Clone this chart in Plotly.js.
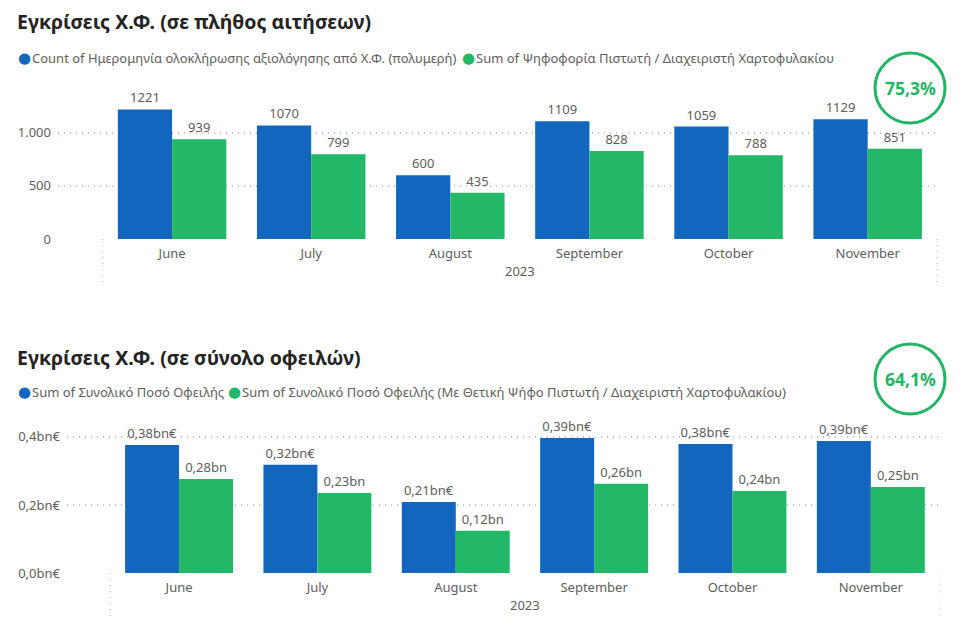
<!DOCTYPE html>
<html>
<head>
<meta charset="utf-8">
<script src="https://cdn.plot.ly/plotly-3.0.1.min.js"></script>
<style>html,body{margin:0;padding:0;background:#fff;}#chart{width:960px;height:617px;}</style>
</head>
<body>
<div id="chart"></div>
<script>
// ---- data ----
const months = ["June", "July", "August", "September", "October", "November"];
const yearLabel = "2023";

const countTotal = [1221, 1070, 600, 1109, 1059, 1129];
const countPositive = [939, 799, 435, 828, 788, 851];
const countTickVals = [0, 500, 1000];
const countTickText = ["0", "500", "1.000"];
const countRatio = "75,3%";

const amountTotal = [0.376, 0.318, 0.209, 0.397, 0.379, 0.388];
const amountTotalLabels = ["0,38bn€", "0,32bn€", "0,21bn€", "0,39bn€", "0,38bn€", "0,39bn€"];
const amountPositive = [0.276, 0.235, 0.124, 0.262, 0.241, 0.253];
const amountPositiveLabels = ["0,28bn", "0,23bn", "0,12bn", "0,26bn", "0,24bn", "0,25bn"];
const amountTickVals = [0, 0.2, 0.4];
const amountTickText = ["0,0bn€", "0,2bn€", "0,4bn€"];
const amountRatio = "64,1%";

const title1 = "Εγκρίσεις Χ.Φ. (σε πλήθος αιτήσεων)";
const title2 = "Εγκρίσεις Χ.Φ. (σε σύνολο οφειλών)";
const legend1a = "Count of Ημερομηνία ολοκλήρωσης αξιολόγησης από Χ.Φ. (πολυμερή)";
const legend1b = "Sum of Ψηφοφορία Πιστωτή / Διαχειριστή Χαρτοφυλακίου";
const legend2a = "Sum of Συνολικό Ποσό Οφειλής";
const legend2b = "Sum of Συνολικό Ποσό Οφειλής (Με Θετική Ψήφο Πιστωτή / Διαχειριστή Χαρτοφυλακίου)";

// ---- style ----
const W = 960, H = 617;
const BLUE = "#1266BE", GREEN = "#22B868", BADGE = "#22B566";
const FONT = "Noto Sans, Open Sans, sans-serif";
const GRAY = "#605E5C";
const px = x => x / W;
const py = y => 1 - y / H;

const textFont = {family: FONT, size: 13, color: GRAY};

const traces = [
  {type: "bar", x: months, y: countTotal, text: countTotal.map(String), textposition: "outside",
   marker: {color: BLUE}, xaxis: "x", yaxis: "y", cliponaxis: false, textfont: textFont, hoverinfo: "y"},
  {type: "bar", x: months, y: countPositive, text: countPositive.map(String), textposition: "outside",
   marker: {color: GREEN}, xaxis: "x", yaxis: "y", cliponaxis: false, textfont: textFont, hoverinfo: "y"},
  {type: "bar", x: months, y: amountTotal, text: amountTotalLabels, textposition: "outside",
   marker: {color: BLUE}, xaxis: "x2", yaxis: "y2", cliponaxis: false, textfont: textFont, hoverinfo: "y"},
  {type: "bar", x: months, y: amountPositive, text: amountPositiveLabels, textposition: "outside",
   marker: {color: GREEN}, xaxis: "x2", yaxis: "y2", cliponaxis: false, textfont: textFont, hoverinfo: "y"}
];

const xCommon = {
  type: "category", showgrid: false, zeroline: false, showline: false, ticks: "",
  tickfont: {family: FONT, size: 13, color: GRAY}, automargin: false, fixedrange: true,
  ticklabelstandoff: 5
};
const yCommon = {
  showgrid: true, gridcolor: "#C8C6C4", griddash: "1px,5px", gridwidth: 1.5, zeroline: false,
  showline: false, ticks: "", tickfont: {family: FONT, size: 13, color: GRAY}, automargin: false,
  fixedrange: true, ticklabelstandoff: 6
};

function legendAnn(x, y, color, label) {
  return [
    {xref: "paper", yref: "paper", x: px(x), y: py(y), xanchor: "left", yanchor: "middle",
     text: "●", showarrow: false, font: {family: "DejaVu Sans, sans-serif", size: 15, color: color}},
    {xref: "paper", yref: "paper", x: px(x + 14), y: py(y), xanchor: "left", yanchor: "middle",
     text: label, showarrow: false, font: {family: FONT, size: 13, color: GRAY}}
  ];
}

const annotations = [
  {xref: "paper", yref: "paper", x: px(15), y: py(22), xanchor: "left", yanchor: "middle",
   text: "<b>" + title1 + "</b>", showarrow: false, font: {family: FONT, size: 19.5, color: "#252423"}},
  {xref: "paper", yref: "paper", x: px(15), y: py(357), xanchor: "left", yanchor: "middle",
   text: "<b>" + title2 + "</b>", showarrow: false, font: {family: FONT, size: 19.5, color: "#252423"}},
  ...legendAnn(16, 58, BLUE, legend1a),
  ...legendAnn(460, 58, GREEN, legend1b),
  ...legendAnn(16, 392, BLUE, legend2a),
  ...legendAnn(226, 392, GREEN, legend2b),
  {xref: "paper", yref: "paper", x: px(910), y: py(88), xanchor: "center", yanchor: "middle",
   text: "<b>" + countRatio + "</b>", showarrow: false, font: {family: FONT, size: 17.5, color: BADGE}},
  {xref: "paper", yref: "paper", x: px(910), y: py(379), xanchor: "center", yanchor: "middle",
   text: "<b>" + amountRatio + "</b>", showarrow: false, font: {family: FONT, size: 17.5, color: BADGE}},
  {xref: "paper", yref: "paper", x: px(520), y: py(271), xanchor: "center", yanchor: "middle",
   text: yearLabel, showarrow: false, font: {family: FONT, size: 13, color: GRAY}},
  {xref: "paper", yref: "paper", x: px(525), y: py(605), xanchor: "center", yanchor: "middle",
   text: yearLabel, showarrow: false, font: {family: FONT, size: 13, color: GRAY}}
];

const dotLine = {color: "#C8C6C4", width: 1.5, dash: "1px,5px"};
const shapes = [
  {type: "circle", xref: "paper", yref: "paper", x0: px(875), x1: px(945), y0: py(53), y1: py(123),
   line: {color: BADGE, width: 3}},
  {type: "circle", xref: "paper", yref: "paper", x0: px(875), x1: px(945), y0: py(344), y1: py(414),
   line: {color: BADGE, width: 3}},
  {type: "line", xref: "x", yref: "paper", x0: -0.5, x1: -0.5, y0: py(239), y1: py(285), line: dotLine},
  {type: "line", xref: "x", yref: "paper", x0: 5.5, x1: 5.5, y0: py(239), y1: py(285), line: dotLine},
  {type: "line", xref: "x2", yref: "paper", x0: -0.5, x1: -0.5, y0: py(573), y1: py(617), line: dotLine},
  {type: "line", xref: "x2", yref: "paper", x0: 5.5, x1: 5.5, y0: py(573), y1: py(617), line: dotLine}
];

const layout = {
  width: W, height: H,
  margin: {l: 0, r: 0, t: 0, b: 0},
  paper_bgcolor: "#fff", plot_bgcolor: "rgba(0,0,0,0)",
  showlegend: false,
  barmode: "group", bargap: 0.22, bargroupgap: 0,
  font: {family: FONT, color: GRAY},
  xaxis: Object.assign({}, xCommon, {domain: [px(58), px(940)], range: [-0.82, 5.52], anchor: "y"}),
  yaxis: Object.assign({}, yCommon, {domain: [py(239), py(101)], range: [0, 1300], anchor: "x",
    tickvals: countTickVals, ticktext: countTickText}),
  xaxis2: Object.assign({}, xCommon, {domain: [px(67), px(940)], range: [-0.81, 5.5], anchor: "y2"}),
  yaxis2: Object.assign({}, yCommon, {domain: [py(573), py(425)], range: [0, 0.435], anchor: "x2",
    tickvals: amountTickVals, ticktext: amountTickText}),
  annotations: annotations,
  shapes: shapes
};

Plotly.newPlot("chart", traces, layout, {displayModeBar: false, staticPlot: true});
</script>
</body>
</html>
